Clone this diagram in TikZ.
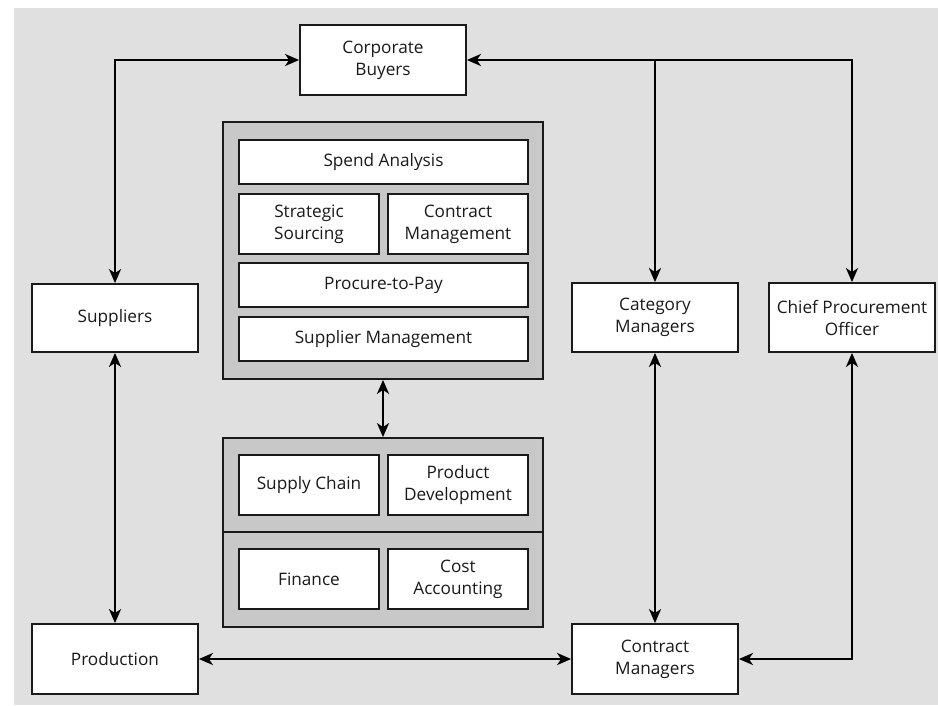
\documentclass[tikz,border=0pt]{standalone}
\usepackage{fontspec}
\setmainfont{Open Sans}
\usetikzlibrary{arrows.meta}
\definecolor{bggray}{HTML}{E0E0E0}
\definecolor{grpgray}{HTML}{C8C8C8}
\definecolor{edge}{HTML}{1A1A1A}
\begin{document}
\begin{tikzpicture}[x=1pt,y=-1pt,
  box/.style={draw=edge,line width=1.8pt,fill=white,inner sep=0pt,align=center,
    font=\fontsize{17.2}{22}\selectfont,text=edge},
  grp/.style={draw=edge,line width=1.8pt,fill=grpgray,inner sep=0pt},
  conn/.style={line width=2.4pt,draw=black,
    arrows={Stealth[length=14pt,width=12pt,inset=4pt]-Stealth[length=14pt,width=12pt,inset=4pt]}},
  conn1/.style={line width=2.4pt,draw=black,
    arrows={-Stealth[length=14pt,width=12pt,inset=4pt]}}]
\useasboundingbox (0,0) rectangle (938,705);
\fill[white] (0,0) rectangle (938,705);
\fill[bggray] (14,8) rectangle (938,705);
% outer nodes
\node[box,minimum width=166pt,minimum height=70pt] (cb) at (383,60) {Corporate\\Buyers};
\node[box,minimum width=166pt,minimum height=68pt] (sup) at (115,318) {Suppliers};
\node[box,minimum width=166pt,minimum height=70pt] (prod) at (115,659) {Production};
\node[box,minimum width=166pt,minimum height=70pt] (cm) at (655,659) {Contract\\Managers};
\node[box,minimum width=166pt,minimum height=69pt] (cat) at (655,317.5) {Category\\Managers};
\node[box,minimum width=166pt,minimum height=69pt] (cpo) at (852,317.5) {Chief Procurement\\Officer};
% top group
\node[grp,minimum width=320pt,minimum height=257pt] (g1) at (383,250.5) {};
\node[box,minimum width=289pt,minimum height=44pt] (spend) at (383.5,162) {Spend Analysis};
\node[box,minimum width=140pt,minimum height=60pt] (strat) at (309,224) {Strategic\\Sourcing};
\node[box,minimum width=140pt,minimum height=60pt] (cmgmt) at (458,224) {Contract\\Management};
\node[box,minimum width=289pt,minimum height=44pt] (p2p) at (383.5,285) {Procure-to-Pay};
\node[box,minimum width=289pt,minimum height=44pt] (smgmt) at (383.5,339) {Supplier Management};
% bottom group
\node[grp,minimum width=320pt,minimum height=94pt] (g2) at (383,485) {};
\node[grp,minimum width=320pt,minimum height=95pt] (g3) at (383,579.5) {};
\node[box,minimum width=140pt,minimum height=60pt] (sc) at (309,485) {Supply Chain};
\node[box,minimum width=140pt,minimum height=60pt] (pd) at (458,485) {Product\\Development};
\node[box,minimum width=140pt,minimum height=60pt] (fin) at (309,579) {Finance};
\node[box,minimum width=140pt,minimum height=60pt] (ca) at (458,579) {Cost\\Accounting};
% connectors
\coordinate (jcat) at (cat.north |- cb.east);
\draw[conn] (sup.north) |- (cb.west);
\draw[conn] (cb.east) -| (cpo.north);
\draw[conn1] (jcat) -- (cat.north);
\draw[conn] (sup.south) -- (prod.north);
\draw[conn] (prod.east) -- (cm.west);
\draw[conn] (cat.south) -- (cm.north);
\draw[conn] (cpo.south) |- (cm.east);
\draw[conn] (g1.south) -- (g2.north);
\end{tikzpicture}
\end{document}
